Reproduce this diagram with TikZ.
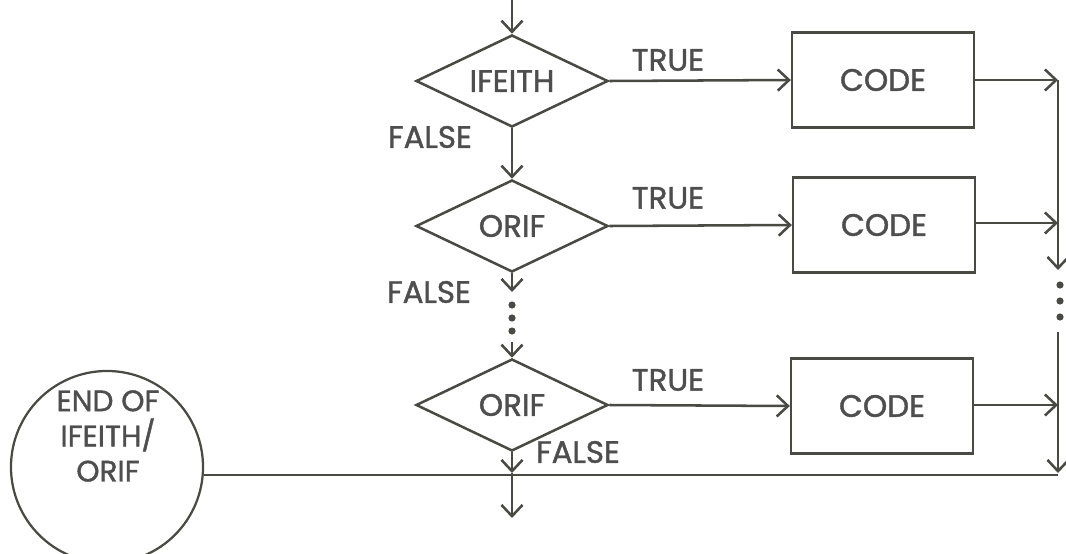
\documentclass[tikz,border=0pt]{standalone}
\usepackage{fontspec}
\setmainfont{Poppins}[BoldFont=Poppins, BoldFeatures={FakeBold=1.3}]
\usetikzlibrary{shapes.geometric, arrows.meta, positioning}
\definecolor{ink}{HTML}{4A4A44}
\definecolor{txt}{HTML}{4E4E4E}

\begin{document}
\begin{tikzpicture}[
    x=0.025cm, y=-0.025cm,
    every node/.style = {text=txt, font=\fontsize{22}{25}\selectfont\bfseries},
    decision/.style = {diamond, draw=ink, line width=1.8pt, inner sep=0pt, aspect=2, minimum width=4.8cm, minimum height=2.3cm},
    codebox/.style = {rectangle, draw=ink, line width=1.6pt, minimum width=4.55cm, minimum height=2.375cm},
    endcircle/.style = {circle, draw=ink, line width=1.6pt, minimum size=4.8cm},
    arrow/.style = {-{Straight Barb[length=8pt,width=15pt,line width=1.8pt]}, draw=ink, line width=1.8pt},
    line/.style = {draw=ink, line width=1.8pt}
]
\useasboundingbox (0,0) rectangle (1066,553);

% Define nodes
\node[decision] (ifeith) at (512,81) {IFEITH};
\node[decision] (orifa) at (512,226) {ORIF};
\node[decision] (orifb) at (512,405) {ORIF};
\node[codebox] (codea) at (883,80) {CODE};
\node[codebox] (codeb) at (884,225) {CODE};
\node[codebox] (codec) at (882,406) {CODE};
\node[endcircle] (endc) at (107,467) {};
\node[align=center, font=\fontsize{21}{25}\selectfont\bfseries] at (108,436) {END OF\\IFEITH/\\ORIF};

% Labels
\node at (668,60) {TRUE};
\node at (668,198) {TRUE};
\node at (668,380) {TRUE};
\node at (430,137) {FALSE};
\node at (429,292) {FALSE};
\node at (578,452) {FALSE};

% Helper points
\coordinate (entry) at (512,0);
\coordinate (gapa) at (512,292);
\coordinate (gapb) at (512,342);
\coordinate (cross) at (512,473);
\coordinate (exit) at (512,518);
\coordinate (raila) at (1058,80);
\coordinate (railb) at (1058,223);
\coordinate (railc) at (1058,405);
\coordinate (railend) at (1058,270);
\coordinate (railgo) at (1058,332);
\coordinate (corner) at (1058,473);
\coordinate (bottom) at (1058,475);

% Draw arrows
\draw[arrow] (entry) -- (ifeith.north);
\draw[arrow] (ifeith.south) -- (orifa.north);
\draw[arrow] (orifa.south) -- (gapa);
\draw[arrow] (gapb) -- (orifb.north);
\draw[arrow] (orifb.south) -- (cross);
\draw[arrow] (cross) -- (exit);
\draw[arrow] (ifeith.east) -- (codea.west);
\draw[arrow] (orifa.east) -- (codeb.west);
\draw[arrow] (orifb.east) -- (codec.west);
\draw[arrow] (codea.east |- raila) -- (raila);
\draw[arrow] (codeb.east |- railb) -- (railb);
\draw[arrow] (codec.east |- railc) -- (railc);
\draw[arrow] (raila) -- (railend);
\draw[arrow] (railgo) -- (corner);
\draw[line] (bottom) -- (endc.east |- bottom);

% Continuation dots
\foreach \y in {305,318,331} \fill[ink] (512,\y) circle[radius=0.09cm];
\foreach \y in {285,301,317} \fill[ink] (1060,\y) circle[radius=0.09cm];

\end{tikzpicture}
\end{document}
